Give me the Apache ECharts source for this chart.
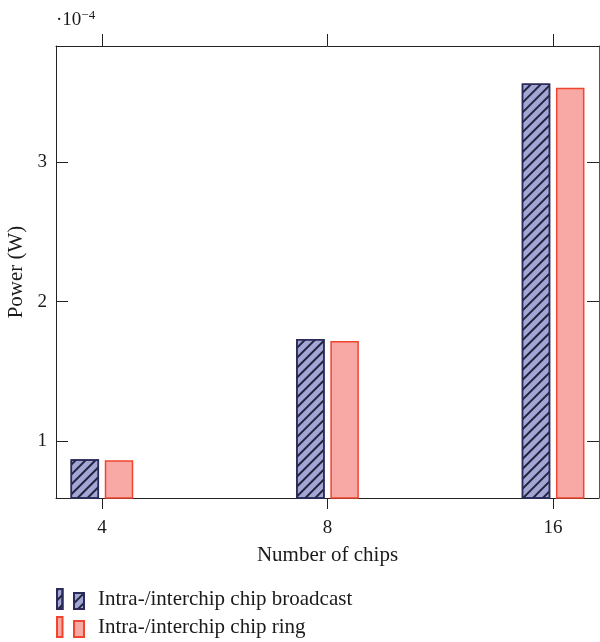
<!DOCTYPE html>
<html>
<head>
<meta charset="utf-8">
<script src="https://cdn.jsdelivr.net/npm/echarts@6/dist/echarts.min.js"></script>
<style>
html,body{margin:0;padding:0;background:#fff;}
#chart{width:600px;height:642px;}
</style>
</head>
<body>
<div id="chart"></div>
<script>
// Data (Power in units of 10^-4 W)
const categories = ['4', '8', '16'];
const broadcast = [0.868, 1.732, 3.565];
const ring = [0.861, 1.718, 3.536];
const yTicks = [1, 2, 3];
const seriesNames = ['Intra-/interchip chip broadcast', 'Intra-/interchip chip ring'];

const FONT = '"Liberation Serif", "DejaVu Serif", serif';
const catIdx = categories.map((c, i) => i);
const AX = '#222';

const chart = echarts.init(document.getElementById('chart'), null, {renderer: 'canvas'});

const legendIcon = 'path://M0,0H5.5V20H0Z M17,4H27V20H17Z';

const option = {
  animation: false,
  backgroundColor: '#fff',
  textStyle: {fontFamily: FONT, color: '#1a1a1a'},
  grid: {left: 56, right: 1, top: 46, bottom: 144, containLabel: false, outerBoundsMode: 'none'},
  xAxis: [{
    type: 'value', position: 'bottom', min: -0.2035, max: 2.2035,
    name: 'Number of chips', nameLocation: 'middle', nameGap: 47,
    nameTextStyle: {fontFamily: FONT, fontSize: 21, color: '#1a1a1a'},
    axisLine: {show: true, onZero: false, lineStyle: {color: AX, width: 1}},
    axisTick: {show: true, inside: false, length: 11, customValues: catIdx, lineStyle: {color: AX}},
    axisLabel: {show: true, customValues: catIdx, margin: 21, fontFamily: FONT, fontSize: 19, color: '#1a1a1a',
      formatter: v => categories[Math.round(v)]},
    splitLine: {show: false}
  }, {
    type: 'value', position: 'top', min: -0.2035, max: 2.2035,
    axisLine: {show: true, onZero: false, lineStyle: {color: AX, width: 1}},
    axisTick: {show: true, inside: false, length: 12, customValues: catIdx, lineStyle: {color: AX}},
    axisLabel: {show: false},
    splitLine: {show: false}
  }],
  yAxis: [{
    type: 'value', position: 'left', min: 0.59, max: 3.835,
    name: 'Power (W)', nameLocation: 'middle', nameGap: 28,
    nameTextStyle: {fontFamily: FONT, fontSize: 21, color: '#1a1a1a'},
    axisLine: {show: true, onZero: false, lineStyle: {color: AX, width: 1}},
    axisTick: {show: true, inside: true, length: 12, customValues: yTicks, lineStyle: {color: AX}},
    axisLabel: {show: true, customValues: yTicks, margin: 9, fontFamily: FONT, fontSize: 19, color: '#1a1a1a'},
    splitLine: {show: false}
  }, {
    type: 'value', position: 'right', min: 0.59, max: 3.835,
    axisLine: {show: true, onZero: false, lineStyle: {color: '#555', width: 1}},
    axisTick: {show: true, inside: true, length: 12, customValues: yTicks, lineStyle: {color: AX}},
    axisLabel: {show: false},
    splitLine: {show: false}
  }],
  legend: {
    orient: 'vertical', left: 56, top: 588, itemGap: 6, padding: 0,
    itemWidth: 27, itemHeight: 20,
    icon: legendIcon,
    textStyle: {fontFamily: FONT, fontSize: 21, color: '#1a1a1a', padding: [0, 0, 2, 9]},
    data: seriesNames
  },
  graphic: [{
    type: 'text', left: 56, top: 9,
    style: {
      text: '·10{sup|−4}', fontFamily: FONT, fontSize: 19, fill: '#1a1a1a',
      rich: {sup: {fontFamily: FONT, fontSize: 13, verticalAlign: 'top', padding: [0, 0, 9, 0]}}
    }
  }],
  series: [{
    name: seriesNames[0], type: 'bar', xAxisIndex: 0, yAxisIndex: 0,
    barWidth: 28.5, barGap: '20%',
    data: broadcast.map((v, i) => [catIdx[i], v]),
    itemStyle: {
      color: '#a2a6d4', borderColor: '#2b2a58', borderWidth: 1.5,
      decal: {symbol: 'rect', symbolSize: 1, dashArrayX: [[1, 0]], dashArrayY: [1.4, 4.8],
        rotation: -Math.PI / 4, color: '#23223f'}
    }
  }, {
    name: seriesNames[1], type: 'bar', xAxisIndex: 0, yAxisIndex: 0,
    barWidth: 28.5, barGap: '20%',
    data: ring.map((v, i) => [catIdx[i], v]),
    itemStyle: {color: '#f8a9a6', borderColor: '#f0452f', borderWidth: 1.5}
  }]
};
chart.setOption(option);
</script>
</body>
</html>
